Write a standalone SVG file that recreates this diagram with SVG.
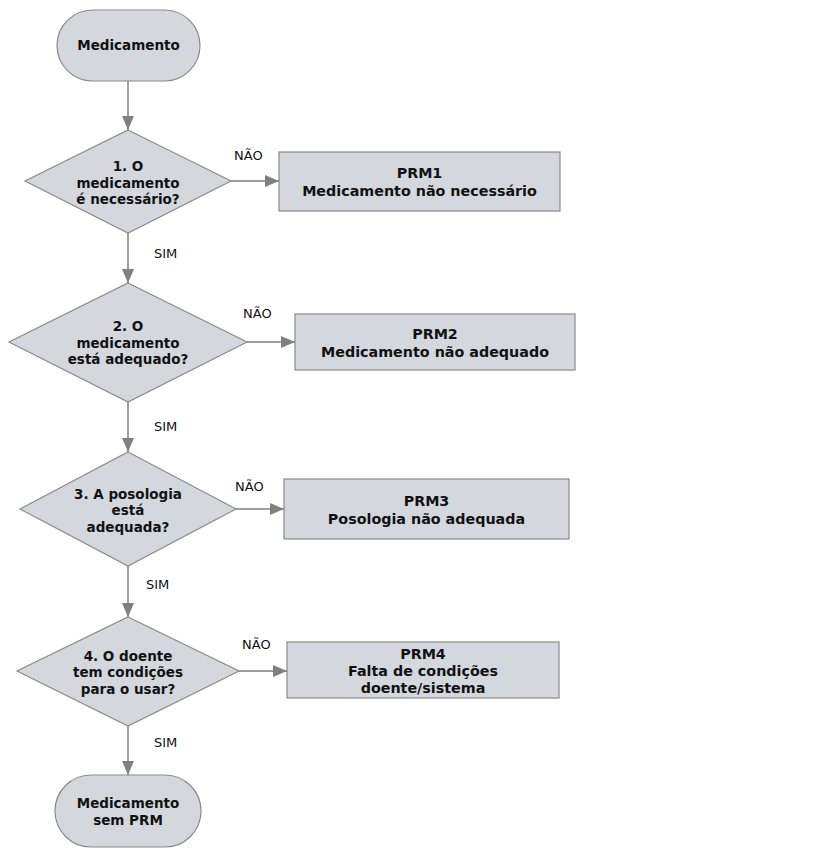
<svg xmlns="http://www.w3.org/2000/svg" width="819" height="853" viewBox="0 0 819 853">
<style>
.shape{fill:#d4d8dd;stroke:#8a8a8a;stroke-width:1.2}
.t{font-family:"DejaVu Sans",Verdana,sans-serif;font-weight:bold;font-size:13.5px;fill:#111;text-anchor:middle}
.b{font-size:14.3px}
.lbl{font-family:"DejaVu Sans",Verdana,sans-serif;font-size:13px;fill:#111}
.c{stroke:#808080;stroke-width:1.5;fill:none;marker-end:url(#ah)}
</style>
<defs>
<marker id="ah" markerWidth="14" markerHeight="12" refX="14" refY="6" orient="auto" markerUnits="userSpaceOnUse">
<path d="M0,0 L14,6 L0,12 Z" fill="#808080"/>
</marker>
</defs>
<rect width="819" height="853" fill="#fff"/>
<g id="connectors">
<line class="c" x1="128" y1="81" x2="128" y2="130"/>
<line class="c" x1="231" y1="181" x2="279" y2="181"/>
<line class="c" x1="128" y1="233" x2="128" y2="283"/>
<line class="c" x1="247" y1="342" x2="295" y2="342"/>
<line class="c" x1="128" y1="402" x2="128" y2="452"/>
<line class="c" x1="236" y1="509" x2="284" y2="509"/>
<line class="c" x1="128" y1="566" x2="128" y2="617"/>
<line class="c" x1="239" y1="671" x2="287" y2="671"/>
<line class="c" x1="128" y1="726" x2="128" y2="775"/>
<text class="lbl" x="234" y="160">NÃO</text>
<text class="lbl" x="154" y="258">SIM</text>
<text class="lbl" x="243" y="318">NÃO</text>
<text class="lbl" x="154" y="431">SIM</text>
<text class="lbl" x="235" y="491">NÃO</text>
<text class="lbl" x="146" y="589">SIM</text>
<text class="lbl" x="242" y="649">NÃO</text>
<text class="lbl" x="154" y="747">SIM</text>
</g>
<g id="start">
<rect class="shape" x="57" y="10" width="143" height="71" rx="35.5"/>
<text class="t" x="128.5" y="50">Medicamento</text>
</g>
<g id="q1">
<polygon class="shape" points="128,130 231,181 128,233 25,181"/>
<text class="t" x="128" y="171">1. O</text>
<text class="t" x="128" y="188">medicamento</text>
<text class="t" x="128" y="204">é necessário?</text>
</g>
<g id="prm1">
<rect class="shape" x="279" y="152" width="281" height="59"/>
<text class="t b" x="419.5" y="178">PRM1</text>
<text class="t b" x="419.5" y="196">Medicamento não necessário</text>
</g>
<g id="q2">
<polygon class="shape" points="128,283 247,342 128,402 9,342"/>
<text class="t" x="128" y="331">2. O</text>
<text class="t" x="128" y="348">medicamento</text>
<text class="t" x="128" y="364">está adequado?</text>
</g>
<g id="prm2">
<rect class="shape" x="295" y="314" width="280" height="56"/>
<text class="t b" x="435" y="339">PRM2</text>
<text class="t b" x="435" y="357">Medicamento não adequado</text>
</g>
<g id="q3">
<polygon class="shape" points="128,452 236,509 128,566 20,509"/>
<text class="t" x="128" y="499">3. A posologia</text>
<text class="t" x="128" y="515">está</text>
<text class="t" x="128" y="532">adequada?</text>
</g>
<g id="prm3">
<rect class="shape" x="284" y="479" width="285" height="60"/>
<text class="t b" x="426.5" y="506">PRM3</text>
<text class="t b" x="426.5" y="524">Posologia não adequada</text>
</g>
<g id="q4">
<polygon class="shape" points="128,617 239,671 128,726 17,671"/>
<text class="t" x="128" y="661">4. O doente</text>
<text class="t" x="128" y="677">tem condições</text>
<text class="t" x="128" y="694">para o usar?</text>
</g>
<g id="prm4">
<rect class="shape" x="287" y="642" width="272" height="56"/>
<text class="t b" x="423" y="659">PRM4</text>
<text class="t b" x="423" y="676">Falta de condições</text>
<text class="t b" x="423" y="693">doente/sistema</text>
</g>
<g id="end">
<rect class="shape" x="55" y="775" width="146" height="72" rx="36"/>
<text class="t" x="128" y="808">Medicamento</text>
<text class="t" x="128" y="825">sem PRM</text>
</g>
</svg>
